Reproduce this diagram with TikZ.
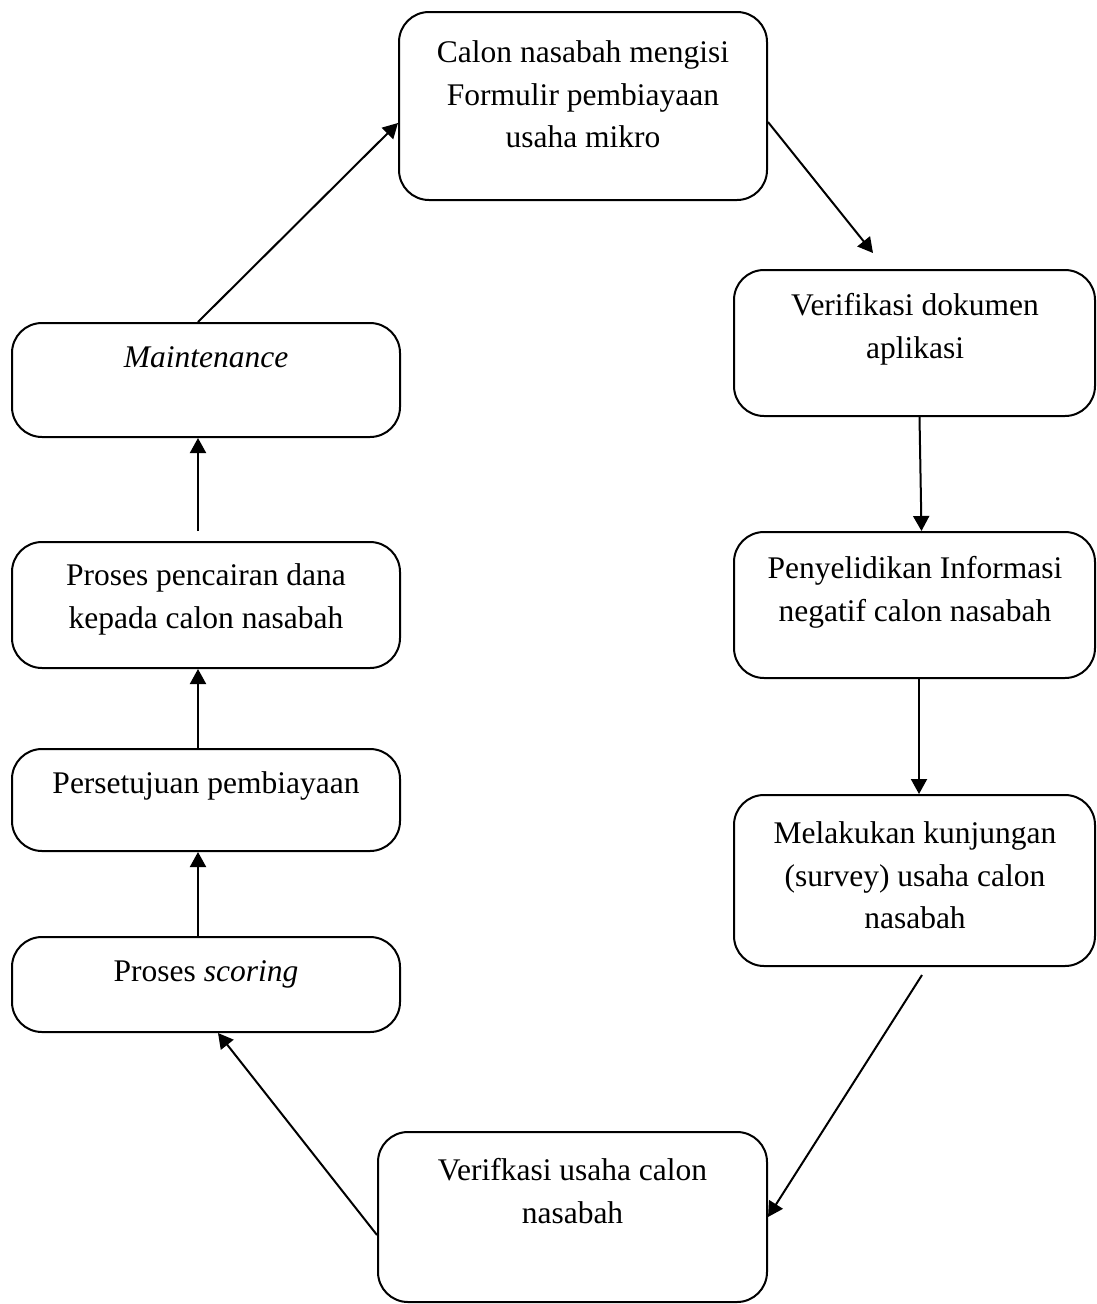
\documentclass[tikz,border=0pt]{standalone}
\usepackage{fontspec}
\setmainfont{Liberation Serif}
\usetikzlibrary{arrows.meta}
\begin{document}
\begin{tikzpicture}[x=1pt,y=-1pt,
  stepbox/.style={draw=black,line width=2pt,rounded corners=30pt,inner sep=0pt,fill=white},
  txt/.style={inner sep=0pt,anchor=north,align=center,font=\fontsize{31.5}{42.5}\selectfont},
  conn/.style={line width=2pt,-{Triangle[width=16pt,length=15pt]}}]
\useasboundingbox (0,0) rectangle (1096,1304);
% boxes
\node[stepbox,minimum width=368pt,minimum height=188pt] (form) at (583,106) {};
\node[stepbox,minimum width=361pt,minimum height=146pt] (vdok) at (914.5,343) {};
\node[stepbox,minimum width=361pt,minimum height=146pt] (pen) at (914.5,605) {};
\node[stepbox,minimum width=361pt,minimum height=171pt] (kunj) at (914.5,880.5) {};
\node[stepbox,minimum width=389pt,minimum height=170pt] (vus) at (572.5,1217) {};
\node[stepbox,minimum width=388pt,minimum height=95pt] (scor) at (206,984.5) {};
\node[stepbox,minimum width=388pt,minimum height=102pt] (setuju) at (206,800) {};
\node[stepbox,minimum width=388pt,minimum height=126pt] (cair) at (206,605) {};
\node[stepbox,minimum width=388pt,minimum height=114pt] (maint) at (206,380) {};
% texts
\node[txt] (form-t) at (583,40.5) {Calon nasabah mengisi\\Formulir pembiayaan\\usaha mikro};
\node[txt] (vdok-t) at (915,293.5) {Verifikasi dokumen\\aplikasi};
\node[txt] (pen-t) at (915,556.5) {Penyelidikan Informasi\\negatif calon nasabah};
\node[txt] (kunj-t) at (915,821.5) {Melakukan kunjungan\\(survey) usaha calon\\nasabah};
\node[txt] (vus-t) at (572.5,1158.5) {Verifkasi usaha calon\\nasabah};
\node[txt] (scor-t) at (206,960.5) {Proses \textit{scoring}};
\node[txt] (setuju-t) at (206,771.5) {Persetujuan pembiayaan};
\node[txt] (cair-t) at (206,563.5) {Proses pencairan dana\\kepada calon nasabah};
\node[txt] (maint-t) at (206,346.5) {\textit{Maintenance}};
% free ends
\coordinate (c1) at (873,253);
\coordinate (c4) at (922,975);
% connectors
\draw[conn] ([yshift=-16pt]form.east) -- (c1);
\draw[conn] ([xshift=5pt]vdok.south) -- ([xshift=7pt]pen.north);
\draw[conn] ([xshift=4.5pt]pen.south) -- ([xshift=4.5pt]kunj.north);
\draw[conn] (c4) -- (vus.east);
\draw[conn] ([yshift=-18pt]vus.west) -- ([xshift=12pt]scor.south);
\draw[conn] ([xshift=-8pt]scor.north) -- ([xshift=-8pt]setuju.south);
\draw[conn] ([xshift=-8pt]setuju.north) -- ([xshift=-8pt]cair.south);
\draw[conn] ([xshift=-8pt,yshift=10pt]cair.north) -- ([xshift=-8pt]maint.south);
\draw[conn] ([xshift=-8pt]maint.north) -- ([yshift=-17pt]form.west);
\end{tikzpicture}
\end{document}
